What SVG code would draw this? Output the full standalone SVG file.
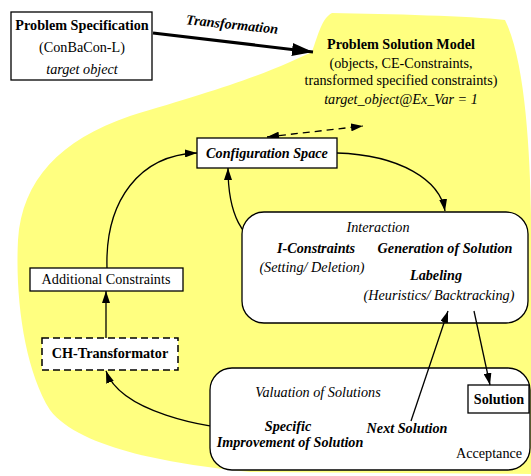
<svg xmlns="http://www.w3.org/2000/svg" width="531" height="476" viewBox="0 0 531 476">
<style>
text{font-family:'Liberation Serif','Times New Roman',serif;font-size:14.2px;fill:#000;text-anchor:middle}
.b{font-weight:bold}
.i{font-style:italic}
.bi{font-weight:bold;font-style:italic}
.box{fill:#fff;stroke:#000;stroke-width:1.3}
.dbox{fill:#fff;stroke:#000;stroke-width:1.5;stroke-dasharray:7,4}
.c{fill:none;stroke:#000;stroke-width:1.3}
</style>
<defs>
<marker id="ah" markerUnits="userSpaceOnUse" markerWidth="13" markerHeight="8" refX="12" refY="4" orient="auto">
<path d="M0,0 L12,4 L0,8 Z" fill="#000"/>
</marker>
<marker id="ahs" markerUnits="userSpaceOnUse" markerWidth="13" markerHeight="8" refX="0" refY="4" orient="auto">
<path d="M12,0 L0,4 L12,8 Z" fill="#000"/>
</marker>
<marker id="big" markerUnits="userSpaceOnUse" markerWidth="22" markerHeight="13" refX="21" refY="6.5" orient="auto">
<path d="M0,0 L21,6.5 L0,13 Z" fill="#000"/>
</marker>
</defs>
<path id="blob" d="M312,52 C318,35 322,18 332,13 C390,14 470,16 505,20 C525,60 530,150 531,215 L531,474 L250,472 C180,465 80,450 50,410 C25,370 15,300 18,240 C22,180 60,140 130,116 C200,95 250,80 290,62 Z" fill="#ffff80"/>
<g id="connectors">
<line x1="153" y1="33" x2="313" y2="52" stroke="#000" stroke-width="3.2" marker-end="url(#big)"/>
<text class="bi" x="232" y="29" transform="rotate(6 232 25)">Transformation</text>
<line x1="267" y1="137" x2="363" y2="126" class="c" stroke-dasharray="7,5" marker-start="url(#ahs)" marker-end="url(#ah)"/>
<path class="c" d="M107,268 C105,200 140,155 197,153" marker-end="url(#ah)"/>
<path class="c" d="M337,153 C400,155 440,180 445,211" marker-end="url(#ah)"/>
<path class="c" d="M275,248 C240,245 228,210 228,168" marker-end="url(#ah)"/>
<line class="c" x1="106" y1="338" x2="106" y2="291" marker-end="url(#ah)"/>
<path class="c" d="M262,430 C200,430 120,410 106,371" marker-end="url(#ah)"/>
</g>
<g id="problem-specification">
<rect class="box" x="11" y="12" width="141" height="68"/>
<text class="b" x="82" y="30">Problem Specification</text>
<text x="82" y="52">(ConBaCon-L)</text>
<text class="i" x="82" y="74">target object</text>
</g>
<g id="problem-solution-model">
<text class="b" x="401" y="49">Problem Solution Model</text>
<text x="401" y="68">(objects, CE-Constraints,</text>
<text x="401" y="85">transformed specified constraints)</text>
<text class="i" x="401" y="104">target_object@Ex_Var = 1</text>
</g>
<g id="configuration-space">
<rect class="box" x="197" y="138" width="140" height="30"/>
<text class="bi" x="267" y="158">Configuration Space</text>
</g>
<g id="interaction">
<rect class="box" x="242" y="212" width="286" height="111" rx="22"/>
<text class="i" x="378" y="232">Interaction</text>
<text class="bi" x="316" y="253">I-Constraints</text>
<text class="i" x="312" y="272">(Setting/ Deletion)</text>
<text class="bi" x="445" y="253">Generation of Solution</text>
<text class="bi" x="436" y="280">Labeling</text>
<text class="i" x="439" y="300">(Heuristics/ Backtracking)</text>
</g>
<g id="additional-constraints">
<rect class="box" x="30" y="268" width="153" height="23"/>
<text x="106" y="284">Additional Constraints</text>
</g>
<g id="ch-transformator">
<rect class="dbox" x="42" y="338" width="136" height="32"/>
<text class="b" x="110" y="358">CH-Transformator</text>
</g>
<g id="valuation">
<rect class="box" x="210" y="368" width="320" height="102" rx="22"/>
<text class="i" x="318" y="397">Valuation of Solutions</text>
<text class="bi" x="288" y="431">Specific</text>
<text class="bi" x="290" y="447">Improvement of Solution</text>
<text class="bi" x="407" y="433">Next Solution</text>
<text x="489" y="458">Acceptance</text>
</g>
<g id="solution">
<rect class="box" x="468" y="385" width="61" height="28"/>
<text class="b" x="499" y="404">Solution</text>
</g>
<g id="connectors-front">
<line class="c" x1="474" y1="311" x2="490" y2="385" marker-end="url(#ah)"/>
<line class="c" x1="411" y1="421" x2="448" y2="311" marker-end="url(#ah)"/>
</g>
</svg>
